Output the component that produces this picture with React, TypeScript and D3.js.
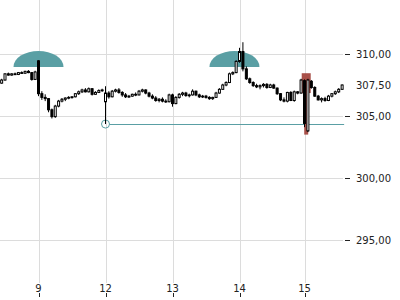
import React from "react";
import * as d3 from "d3";

const opens = [307.65,307.9,308.4,308.3,308.4,308.35,308.5,308.45,308.6,308.5,307.95,
309.45,306.8,306.5,306.4,305.5,304.95,305.8,306.2,306.35,306.45,306.5,306.55,306.8,306.95,307.1,306.95,307.2,306.75,306.9,307.05,
306.15,306.85,306.55,307.0,307.1,306.9,306.7,306.55,306.6,306.75,306.7,307.0,307.1,306.85,306.6,306.45,306.25,306.35,306.2,306.15,
306.7,306.0,306.5,306.75,306.85,306.65,306.7,307.0,306.7,306.55,306.6,306.5,306.4,306.5,306.85,307.15,307.5,307.7,308.4,308.5,
309.4,310.2,308.8,308.0,307.7,307.45,307.35,307.45,307.55,307.3,307.5,307.25,306.8,306.3,306.2,306.9,306.25,306.95,306.85,
307.85,303.8,307.8,307.3,306.6,306.3,306.4,306.25,306.6,306.8,306.95,307.15];
const highs = [308.0,308.45,308.5,308.45,308.5,308.55,308.6,308.65,308.7,308.55,308.65,
309.5,307.0,306.75,306.45,305.6,305.9,306.3,306.45,306.5,306.6,306.6,306.85,307.05,307.2,307.25,307.3,307.25,307.0,307.15,307.2,
307.4,307.0,307.1,307.2,307.25,307.0,306.85,306.7,306.8,306.9,307.1,307.2,307.15,306.95,306.75,306.6,306.45,306.5,306.35,306.8,
306.8,306.6,306.85,306.95,306.95,306.8,307.15,307.05,306.8,306.7,306.7,306.6,306.55,306.95,307.25,307.6,307.8,308.5,308.6,309.5,
310.5,310.95,309.0,308.1,307.8,307.6,307.55,307.65,307.65,307.6,307.6,307.3,306.85,306.5,306.95,307.0,307.05,307.0,308.0,
307.95,308.0,307.9,307.4,306.7,306.5,306.55,306.7,306.85,307.05,307.25,307.55];
const lows = [307.6,307.85,308.25,308.25,308.3,308.3,308.4,308.4,308.45,307.85,307.9,
306.6,306.3,306.2,305.3,304.8,304.85,305.7,306.1,306.2,306.35,306.4,306.5,306.7,306.85,306.9,306.9,306.65,306.7,306.85,306.95,
304.35,306.4,306.5,306.9,306.8,306.55,306.45,306.45,306.55,306.6,306.65,306.9,306.75,306.5,306.35,306.15,306.1,306.1,306.05,306.1,
305.75,305.95,306.4,306.6,306.55,306.5,306.65,306.6,306.45,306.45,306.4,306.3,306.3,306.45,306.8,307.1,307.4,307.65,308.3,308.45,
309.3,308.6,307.9,307.6,307.35,307.25,307.15,307.3,307.2,307.25,307.2,306.7,306.2,306.1,306.1,306.2,306.15,306.75,306.8,
304.1,303.7,307.2,306.55,306.25,306.1,306.15,306.2,306.5,306.7,306.85,307.1];
const closes = [307.9,308.4,308.3,308.4,308.35,308.5,308.45,308.6,308.5,307.95,308.55,
306.8,306.5,306.4,305.5,304.95,305.8,306.2,306.35,306.45,306.5,306.55,306.8,306.95,307.1,306.95,307.2,306.75,306.9,307.05,307.1,
306.85,306.55,307.0,307.1,306.9,306.7,306.55,306.6,306.75,306.7,307.0,307.1,306.85,306.6,306.45,306.25,306.35,306.2,306.15,306.7,
306.0,306.5,306.75,306.85,306.65,306.7,307.0,306.7,306.55,306.6,306.5,306.4,306.5,306.85,307.15,307.5,307.7,308.4,308.5,309.4,
310.2,308.8,308.0,307.7,307.45,307.35,307.45,307.55,307.3,307.5,307.25,306.8,306.3,306.2,306.9,306.25,306.95,306.85,307.9,
304.4,307.9,307.3,306.6,306.3,306.4,306.25,306.6,306.8,306.95,307.15,307.5];

const dayLabels = ["9", "12", "13", "14", "15"];
const dayStarts = [11, 31, 51, 71, 90];
const dayPixels = [38.5, 105.5, 172.5, 239.5, 304.5];
const yTicks = [295, 300, 305, 310];

// pattern markers (index, base price, top price)
const markerIdx = [11, 69.5];
const markerBase = [308.95, 308.95];
const markerTop = [310.25, 310.25];

// highlighted candle (red)
const hlIdx = 90.5;
const hlBodyTop = 308.45;
const hlBodyBottom = 306.85;
const hlLow = 303.5;

// support level
const supportIdx = 31;
const supportEnd = 101;

const W = 400;
const H = 300;

export default function App() {
  const x = d3.scaleLinear().domain(dayStarts).range(dayPixels);
  const y = d3.scaleLinear().domain([295, 310]).range([240, 54]);
  const loc = d3.formatLocale({ decimal: ",", thousands: ".", grouping: [3], currency: ["", ""] });
  const fmt = loc.format(".2f");
  const teal = "#5a9fa4";
  const bw = 2;
  const last = closes[closes.length - 1];
  const supportY = y(lows[supportIdx]);

  return (
    <svg width={W} height={H} style={{ position: "fixed", left: 0, top: 0, background: "#fff" }}
      fontFamily="DejaVu Sans" fontSize={10}>
      {/* grid */}
      {dayStarts.map((d, i) => (
        <line key={"vg" + i} x1={Math.round(x(d)) + 0.5} x2={Math.round(x(d)) + 0.5} y1={0} y2={283}
          stroke="#dcdcdc" strokeWidth={1} />
      ))}
      {yTicks.map((t) => (
        <line key={"hg" + t} x1={0} x2={343} y1={Math.round(y(t)) + 0.5} y2={Math.round(y(t)) + 0.5}
          stroke="#dcdcdc" strokeWidth={1} />
      ))}
      {/* markers */}
      {markerIdx.map((m, i) => {
        const cx = x(m);
        const by = y(markerBase[i]);
        const ry = by - y(markerTop[i]);
        const rx = 25;
        return (
          <path key={"mk" + i} d={`M${cx - rx},${by} A${rx},${ry} 0 0 1 ${cx + rx},${by} Z`} fill={teal} />
        );
      })}
      {/* support line */}
      <line x1={x(supportIdx) + 4} x2={x(supportEnd) + 2} y1={Math.round(supportY) + 0.5} y2={Math.round(supportY) + 0.5}
        stroke={teal} strokeWidth={1} />
      <circle cx={x(supportIdx)} cy={supportY} r={4} fill="none" stroke={teal} strokeWidth={1} />
      {/* highlighted candle */}
      <rect x={x(hlIdx) - 4.5} y={y(hlBodyTop)} width={9} height={y(hlBodyBottom) - y(hlBodyTop)} fill="#a3473f" opacity={0.95} />
      <rect x={x(hlIdx) - 2} y={y(hlBodyBottom)} width={4} height={y(hlLow) - y(hlBodyBottom)} fill="#a3473f" opacity={0.95} />
      {/* candles */}
      {closes.map((c, i) => {
        const o = opens[i];
        const cx = x(i);
        const up = c >= o;
        const top = y(Math.max(o, c));
        const bot = y(Math.min(o, c));
        return (
          <g key={"c" + i}>
            <line x1={cx} x2={cx} y1={y(highs[i])} y2={y(lows[i])} stroke="#000" strokeWidth={1} />
            <rect x={cx - bw / 2} y={top} width={bw} height={Math.max(bot - top, 0.8)}
              fill={up ? "#fff" : "#000"} stroke="#000" strokeWidth={1} />
          </g>
        );
      })}
      {/* y axis */}
      {yTicks.map((t) => (
        <g key={"yt" + t}>
          <line x1={345} x2={350} y1={Math.round(y(t)) + 0.5} y2={Math.round(y(t)) + 0.5} stroke="#222" />
          <text x={356} y={y(t)} dy="0.36em" fill="#222">{fmt(t)}</text>
        </g>
      ))}
      <text x={356} y={y(last)} dy="0.36em" fill="#222">{fmt(last)}</text>
      {/* x axis */}
      {dayStarts.map((d, i) => (
        <g key={"xt" + i}>
          <line x1={Math.round(x(d)) + 0.5} x2={Math.round(x(d)) + 0.5} y1={293} y2={297} stroke="#222" />
          <text x={x(d)} y={291.5} textAnchor="middle" fill="#222">{dayLabels[i]}</text>
        </g>
      ))}
    </svg>
  );
}
